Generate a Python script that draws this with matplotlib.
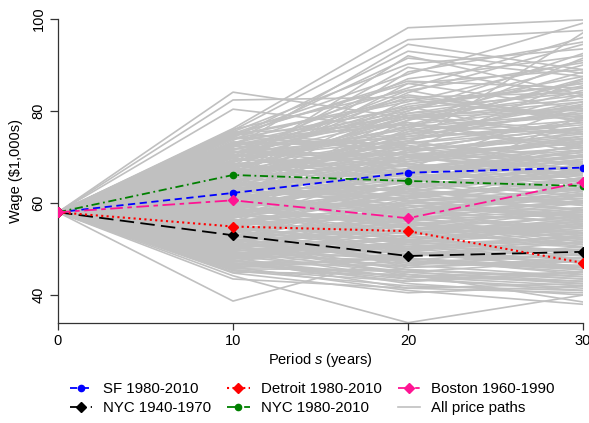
import matplotlib
matplotlib.use('Agg')
import matplotlib.pyplot as plt

plt.rcParams['font.family'] = ['Liberation Sans', 'DejaVu Sans']
plt.rcParams['mathtext.fontset'] = 'custom'
plt.rcParams['mathtext.it'] = 'Liberation Sans:italic'
plt.rcParams['mathtext.rm'] = 'Liberation Sans'

periods = [0, 10, 20, 30]
start_wage = 58.0

# simulated price paths, wage at s = 10, 20, 30 (start is start_wage)
path_s10 = [
    84.1, 82.4, 80.4, 76.2, 75.8, 75.5, 75.1, 74.8, 74.6, 74.2,
    74.0, 73.6, 73.3, 73.0, 72.7, 72.4, 72.1, 71.8, 71.5, 71.2,
    70.9, 70.6, 70.3, 70.0, 69.7, 69.4, 69.1, 68.8, 68.5, 68.2,
    67.9, 67.6, 67.3, 67.0, 66.7, 66.4, 66.1, 65.8, 65.5, 65.2,
    64.9, 64.6, 64.3, 64.0, 63.7, 63.4, 63.1, 62.8, 62.5, 62.2,
    61.9, 61.6, 61.3, 61.0, 60.7, 60.4, 60.1, 59.8, 59.5, 59.2,
    58.9, 58.6, 58.3, 58.0, 57.7, 57.4, 57.1, 56.8, 56.5, 56.2,
    55.9, 55.6, 55.3, 55.0, 54.7, 54.4, 54.1, 53.8, 53.5, 53.2,
    52.9, 52.6, 52.3, 52.0, 51.7, 51.4, 51.1, 50.8, 50.5, 50.2,
    49.9, 49.6, 49.3, 49.0, 48.7, 48.4, 48.1, 47.8, 47.5, 47.2,
    46.9, 46.5, 46.1, 45.7, 45.3, 44.8, 44.2, 43.5, 38.7, 45.0,
    65.0, 62.0, 68.0, 59.0, 70.0, 56.0, 63.5, 66.5, 60.5, 57.5,
    60.2, 57.0, 63.8, 54.5, 66.2, 52.5, 58.4, 61.4, 55.8, 50.8,
    73.9, 71.0, 68.6, 66.0, 63.3, 60.8, 58.2, 55.4, 52.8, 50.1,
    75.0, 72.3, 69.8, 67.2, 64.5, 61.8, 59.3, 56.7, 54.0, 51.3,
    48.6, 47.0, 46.3, 49.5, 52.0, 55.0, 58.0, 61.0, 64.0, 67.0,
    70.0, 73.0, 76.0, 62.5, 57.8, 53.0, 49.0, 65.8, 60.0, 55.2,
    74.4, 71.9, 69.2, 66.8, 64.1, 61.5, 59.0, 56.3, 53.7, 51.0,
    48.0, 46.7, 45.5, 47.6, 50.6, 53.3, 56.0, 58.7, 61.2, 63.9,
    66.6, 69.0, 71.6, 74.7, 62.7, 59.6, 56.9, 54.2, 51.5, 48.9,
    75.6, 73.1, 70.5, 67.7, 65.3, 62.6, 60.0, 57.2, 54.6, 52.2,
    49.8, 47.4, 45.9, 51.9, 55.1, 58.5, 61.7, 64.7, 67.4, 70.2,
    72.9, 69.9, 67.1, 64.4, 61.1, 58.8, 55.7, 52.4, 50.0, 47.9,
    63.2, 60.3, 57.6, 54.9, 52.1, 49.4, 46.8, 65.6, 68.4, 71.3,
    74.9, 72.6, 70.8, 68.9, 66.9, 64.8, 62.4, 59.9, 57.3, 54.8,
    52.6, 50.4, 48.3, 46.4, 53.9, 56.1, 58.6, 61.6, 63.6, 65.9,
    68.1, 70.4, 72.8, 75.3, 60.9, 57.9, 55.5, 53.1, 51.2, 49.1,
]
path_s20 = [
    78.5, 83.0, 76.0, 98.1, 95.5, 90.2, 88.0, 86.5, 82.0, 93.0,
    80.5, 91.5, 72.0, 85.0, 77.5, 69.0, 94.5, 75.0, 83.5, 70.5,
    79.0, 66.5, 87.0, 73.5, 81.5, 68.0, 76.5, 89.5, 71.0, 64.5,
    74.0, 84.0, 62.0, 78.0, 70.0, 86.0, 66.0, 72.5, 80.0, 60.5,
    69.5, 75.5, 58.5, 82.5, 67.5, 63.0, 77.0, 61.0, 71.5, 57.5,
    65.0, 73.0, 56.0, 68.5, 79.5, 59.5, 63.5, 70.5, 54.5, 66.5,
    62.5, 55.0, 67.0, 60.0, 52.5, 64.0, 57.0, 69.0, 51.0, 59.0,
    53.5, 61.5, 49.5, 57.5, 65.5, 51.5, 55.5, 48.0, 60.5, 46.5,
    50.0, 56.5, 47.0, 53.0, 45.5, 58.0, 49.0, 44.5, 52.0, 47.5,
    46.0, 51.0, 43.5, 48.5, 54.0, 45.0, 42.5, 50.5, 44.0, 47.0,
    43.0, 48.0, 41.0, 45.5, 42.0, 40.5, 34.0, 41.5, 49.0, 44.5,
    88.5, 76.0, 92.0, 71.5, 84.5, 67.5, 81.0, 73.0, 78.0, 62.5,
    58.0, 63.0, 66.0, 56.0, 72.0, 54.0, 61.0, 64.5, 59.5, 55.5,
    77.0, 74.5, 70.0, 68.0, 65.5, 62.0, 60.0, 57.0, 53.5, 50.5,
    72.5, 79.0, 66.0, 73.0, 61.5, 69.5, 55.5, 64.0, 50.0, 58.5,
    47.5, 44.0, 45.0, 52.5, 49.0, 58.5, 54.0, 66.5, 60.5, 71.0,
    76.0, 81.0, 84.5, 66.5, 62.5, 55.5, 51.5, 74.5, 57.5, 49.5,
    71.5, 68.5, 75.0, 63.0, 70.0, 58.0, 65.0, 52.0, 60.0, 48.0,
    52.5, 46.5, 43.0, 41.5, 45.5, 49.5, 52.0, 56.0, 63.5, 67.0,
    73.5, 77.5, 79.5, 82.5, 68.5, 64.5, 61.5, 59.0, 55.0, 53.0,
    70.5, 67.0, 64.0, 60.5, 57.5, 54.5, 51.5, 48.5, 46.0, 44.0,
    56.5, 51.0, 48.5, 57.0, 62.5, 67.5, 71.0, 75.5, 78.5, 80.5,
    74.0, 78.5, 69.0, 72.0, 66.5, 70.0, 62.5, 59.5, 54.5, 51.5,
    59.5, 56.5, 53.5, 50.5, 47.5, 45.0, 43.5, 62.5, 65.0, 68.0,
    86.0, 80.0, 83.0, 76.5, 79.0, 73.5, 75.0, 71.5, 67.5, 63.0,
    61.0, 57.5, 53.0, 50.0, 47.0, 51.0, 55.5, 58.5, 61.0, 64.5,
    67.0, 70.5, 73.0, 77.0, 64.5, 61.0, 58.0, 55.0, 52.0, 49.5,
]
path_s30 = [
    80.2, 79.0, 72.5, 99.8, 97.5, 93.5, 99.1, 85.0, 91.0, 88.2,
    84.0, 87.5, 76.5, 96.0, 71.0, 74.0, 89.0, 82.0, 78.5, 65.0,
    75.5, 70.0, 92.0, 81.0, 86.0, 62.5, 79.5, 83.0, 68.5, 73.0,
    77.0, 94.5, 58.5, 88.5, 66.0, 80.5, 71.5, 63.5, 90.0, 56.0,
    72.0, 84.5, 61.0, 78.0, 69.0, 59.5, 86.5, 67.0, 75.0, 53.5,
    70.5, 76.0, 51.5, 64.5, 82.5, 57.0, 68.0, 73.5, 55.0, 62.0,
    66.5, 50.5, 71.0, 58.0, 54.0, 60.5, 52.0, 74.5, 48.5, 63.0,
    56.5, 64.0, 47.0, 59.0, 69.5, 49.0, 53.0, 45.5, 61.5, 44.0,
    51.5, 57.5, 46.0, 55.5, 43.5, 60.0, 48.0, 42.5, 54.5, 45.0,
    47.5, 52.5, 41.5, 50.0, 56.0, 43.0, 40.0, 49.5, 42.0, 46.5,
    44.5, 46.0, 38.0, 43.5, 41.0, 42.0, 40.0, 40.5, 47.0, 38.5,
    95.0, 91.5, 83.5, 87.0, 77.5, 81.5, 73.0, 97.0, 85.5, 79.0,
    61.5, 67.5, 63.0, 60.0, 76.5, 58.5, 65.5, 69.0, 57.5, 51.0,
    81.0, 76.0, 73.0, 70.0, 67.0, 64.0, 61.0, 58.0, 55.0, 52.0,
    69.0, 83.5, 62.5, 77.5, 58.5, 74.0, 53.5, 66.5, 47.5, 62.5,
    50.5, 43.0, 47.5, 55.0, 46.0, 62.0, 51.0, 71.5, 57.0, 78.5,
    79.0, 86.0, 90.5, 70.5, 59.5, 58.0, 53.5, 80.0, 54.5, 45.5,
    74.5, 66.0, 81.5, 60.0, 75.5, 56.0, 69.5, 49.5, 65.0, 44.5,
    54.0, 49.0, 45.0, 42.5, 44.0, 47.0, 50.5, 53.5, 66.0, 72.5,
    68.0, 72.0, 85.0, 78.5, 73.5, 70.5, 65.0, 63.5, 59.0, 57.5,
    73.0, 69.0, 66.0, 63.0, 60.5, 57.0, 55.0, 51.5, 48.0, 45.0,
    60.5, 55.5, 52.5, 64.5, 67.5, 71.0, 76.0, 79.5, 82.0, 87.5,
    77.5, 75.0, 71.5, 68.5, 64.0, 67.0, 60.0, 56.5, 52.5, 49.5,
    57.5, 54.5, 51.0, 48.0, 45.5, 42.5, 41.0, 60.0, 63.0, 66.5,
    89.0, 92.5, 84.0, 87.0, 80.5, 83.5, 78.0, 74.0, 72.5, 68.5,
    65.5, 60.5, 56.0, 53.0, 49.0, 46.0, 52.5, 55.5, 58.5, 61.5,
    64.5, 67.5, 70.0, 75.0, 68.0, 65.5, 62.0, 58.5, 56.0, 53.0,
]

# observed city wage paths
sf_1980 = [58.0, 62.2, 66.6, 67.7]
nyc_1940 = [58.0, 53.0, 48.5, 49.4]
detroit_1980 = [58.0, 54.9, 53.9, 47.0]
nyc_1980 = [58.0, 66.1, 64.8, 63.7]
boston_1960 = [58.0, 60.6, 56.7, 64.6]

W, H = 589, 423
fig = plt.figure(figsize=(W / 100, H / 100), dpi=100)
ax = fig.add_axes([58 / W, 1 - 322.7 / H, (583 - 58) / W, (322.7 - 19) / H])

grey = '#c0c0c0'
for a, b, c in zip(path_s10, path_s20, path_s30):
    ax.plot(periods, [start_wage, a, b, c], color=grey, lw=1.2, zorder=1)

ax.plot(periods, sf_1980, color='blue', lw=1.3, dashes=(4, 2.5),
        marker='o', ms=4.5, label='SF 1980-2010', zorder=3)
ax.plot(periods, nyc_1940, color='black', lw=1.3, dashes=(8, 3.5),
        marker='D', ms=5, label='NYC 1940-1970', zorder=3)
ax.plot(periods, detroit_1980, color='red', lw=1.5, dashes=(1, 1.6),
        marker='D', ms=5, label='Detroit 1980-2010', zorder=3)
ax.plot(periods, nyc_1980, color='#008000', lw=1.3, dashes=(4.5, 2, 1, 2),
        marker='o', ms=4.5, label='NYC 1980-2010', zorder=3)
ax.plot(periods, boston_1960, color='#ff1493', lw=1.3, dashes=(7, 2.5, 2.5, 2.5),
        marker='D', ms=5, label='Boston 1960-1990', zorder=3)
ax.plot([], [], color=grey, lw=1.2, label='All price paths')

ax.set_xlim(0, 30)
ax.set_ylim(34, 100)
ax.set_xticks(periods)
ax.set_yticks([40, 60, 80, 100])
for s in ['top', 'right']:
    ax.spines[s].set_visible(False)
for s in ['left', 'bottom']:
    ax.spines[s].set_linewidth(0.9)
    ax.spines[s].set_color('#333333')
ax.tick_params(axis='x', length=5, width=0.9, pad=3, labelsize=10.5, colors='#333333',
               labelcolor='black')
ax.tick_params(axis='y', length=6, width=0.9, pad=3, labelsize=10.5, colors='#333333',
               labelcolor='black')
for lab in ax.get_yticklabels():
    lab.set_rotation(90)
    lab.set_va('center')

ax.set_xlabel('Period $s$ (years)', fontsize=10.5, labelpad=2)
ax.set_ylabel('Wage ($1,000s)', fontsize=10.5, labelpad=6)

fig.legend(loc='upper center', bbox_to_anchor=(0.53, 0.11), ncol=3, frameon=False,
           fontsize=10.8, handlelength=1.5, handletextpad=0.75, columnspacing=1.05,
           labelspacing=0.32, numpoints=1, borderaxespad=0)

fig.savefig('out.png', dpi=100)
